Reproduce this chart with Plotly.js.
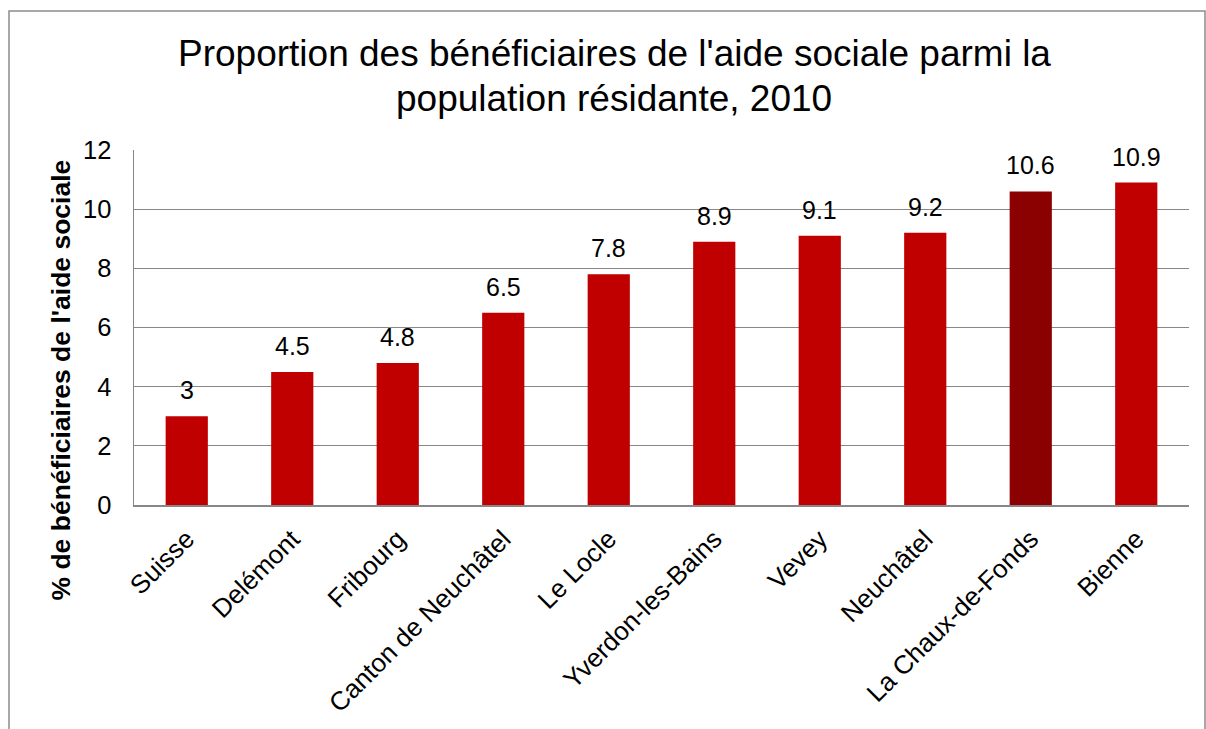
<!DOCTYPE html>
<html>
<head>
<meta charset="utf-8">
<script src="https://cdn.plot.ly/plotly-3.0.1.min.js"></script>
<style>
html,body{margin:0;padding:0;background:#fff;}
#chart{width:1206px;height:729px;}
</style>
</head>
<body>
<div id="chart"></div>
<script>
const categories = ["Suisse", "Delémont", "Fribourg", "Canton de Neuchâtel", "Le Locle", "Yverdon-les-Bains", "Vevey", "Neuchâtel", "La Chaux-de-Fonds", "Bienne"];
const values = [3, 4.5, 4.8, 6.5, 7.8, 8.9, 9.1, 9.2, 10.6, 10.9];
const highlighted = "La Chaux-de-Fonds";
const yTicks = [0, 2, 4, 6, 8, 10, 12];
const titleLines = ["Proportion des bénéficiaires de l'aide sociale parmi la", "population résidante, 2010"];
const yTitle = "% de bénéficiaires de l'aide sociale";

const barColor = "#C00000";
const highlightColor = "#8B0000";
const colors = categories.map(c => c === highlighted ? highlightColor : barColor);

const font = "Liberation Sans, Arial, sans-serif";

const trace = {
  type: "bar",
  x: categories,
  y: values,
  marker: { color: colors, line: { width: 0 } },
  hoverinfo: "x+y"
};

// plot-area geometry (pixels) for paper-coordinate placement
const L = 134, R = 17, T = 150, B = 224, W = 1206, H = 729;
const pw = W - L - R, ph = H - T - B;
const px = x => (x - L) / pw;
const py = y => (H - B - y) / ph;

const valueLabels = categories.map((c, i) => ({
  text: String(values[i]), x: c, y: values[i], xref: "x", yref: "y",
  xanchor: "center", yanchor: "bottom", yshift: 10,
  showarrow: false, font: { family: font, size: 25, color: "#000" }
}));

const layout = {
  width: W,
  height: H,
  margin: { l: L, r: R, t: T, b: B, pad: 0 },
  paper_bgcolor: "#fff",
  plot_bgcolor: "#fff",
  font: { family: font, color: "#000" },
  showlegend: false,
  bargap: 0.6,
  xaxis: {
    type: "category",
    tickangle: -45,
    tickfont: { family: font, size: 26, color: "#000" },
    showgrid: false,
    showline: true,
    linecolor: "#878787",
    linewidth: 1.5,
    ticks: "",
    ticklabelstandoff: 7,
    automargin: false
  },
  yaxis: {
    range: [0, 12],
    tickvals: yTicks,
    ticktext: yTicks.map(String),
    tickfont: { family: font, size: 25.5, color: "#000" },
    showgrid: true,
    gridcolor: "#878787",
    gridwidth: 1,
    zeroline: false,
    showline: true,
    linecolor: "#878787",
    linewidth: 1.5,
    ticks: "",
    ticklabelstandoff: 16,
    automargin: false
  },
  annotations: [
    {
      text: titleLines[0], xref: "paper", yref: "paper",
      x: px(614), y: py(54), xanchor: "center", yanchor: "middle",
      showarrow: false, font: { family: font, size: 37, color: "#000" }
    },
    {
      text: titleLines[1], xref: "paper", yref: "paper",
      x: px(614), y: py(98), xanchor: "center", yanchor: "middle",
      showarrow: false, font: { family: font, size: 37, color: "#000" }
    },
    {
      text: "<b>" + yTitle + "</b>", xref: "paper", yref: "paper",
      x: px(60), y: py(380.5), xanchor: "center", yanchor: "middle",
      textangle: -90, showarrow: false,
      font: { family: font, size: 26.5, color: "#000" }
    }
  ].concat(valueLabels),
  shapes: [{
    type: "rect",
    xref: "paper", yref: "paper",
    x0: px(9), x1: px(1205), y0: py(735), y1: py(11),
    line: { color: "#8C8C8C", width: 1.5 },
    fillcolor: "rgba(0,0,0,0)",
    layer: "below"
  }]
};

Plotly.newPlot("chart", [trace], layout, { displayModeBar: false, staticPlot: true });
</script>
</body>
</html>
